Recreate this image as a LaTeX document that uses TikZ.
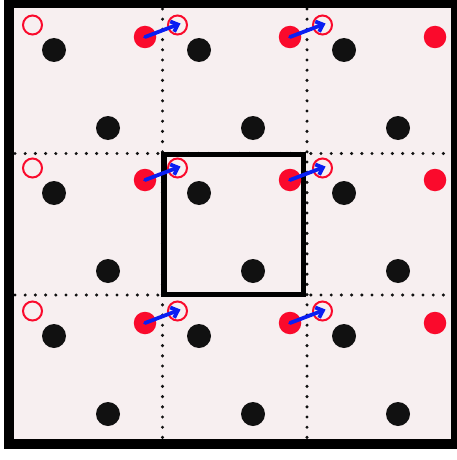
\documentclass[tikz,border=0pt]{standalone}
\usetikzlibrary{arrows.meta}
\definecolor{cellbg}{HTML}{F7EFF0}
\definecolor{dotred}{HTML}{FA0A2C}
\definecolor{dotblack}{HTML}{111111}
\definecolor{hopblue}{HTML}{0A1EF2}
\begin{document}
\begin{tikzpicture}[x=1pt,y=-1pt,
    blackdot/.style={circle,fill=dotblack,inner sep=0pt,minimum size=24pt},
    reddot/.style={circle,fill=dotred,inner sep=0pt,minimum size=22.5pt},
    redring/.style={circle,draw=dotred,line width=2pt,inner sep=0pt,minimum size=19pt},
    gridline/.style={dotblack,line width=3.4pt,line cap=round,dash pattern=on 0pt off 10.2pt},
    hop/.style={hopblue,line width=3.8pt,line cap=round,-{Straight Barb[length=6pt,width=11pt]}}]
    \useasboundingbox (0,0) rectangle (457,460);

    %background
    \fill[cellbg] (9,3) rectangle (456,444);

    %cell borders (dotted)
    \draw[gridline] (162.5,9) -- (162.5,439);
    \draw[gridline] (307,9) -- (307,439);
    \draw[gridline] (15,153.5) -- (451,153.5);
    \draw[gridline] (15,295) -- (451,295);

    %unit cell
    \draw[line width=5.5pt] (164,154.5) rectangle (303.5,294.5);

    %atoms
    \foreach \r in {0,1,2}
      \foreach \c in {0,1,2}
      {
        \begin{scope}[shift={({17.5+145*\c},{10+143*\r})}]
          \node[redring] (o-\r-\c) at (15,15) {};
          \node[blackdot] (b-\r-\c) at (36.5,40) {};
          \node[blackdot] (l-\r-\c) at (90.5,118) {};
          \node[reddot] (f-\r-\c) at (127.5,27) {};
        \end{scope}
      }

    %displacements
    \foreach \r in {0,1,2}
      \foreach \c/\n in {0/1,1/2}
        \draw[hop] (f-\r-\c.center) -- ([shift={(3,-1.5)}]o-\r-\n.center);

    %frame
    \draw[line width=10pt] (9,3) rectangle (456,444);
\end{tikzpicture}
\end{document}
